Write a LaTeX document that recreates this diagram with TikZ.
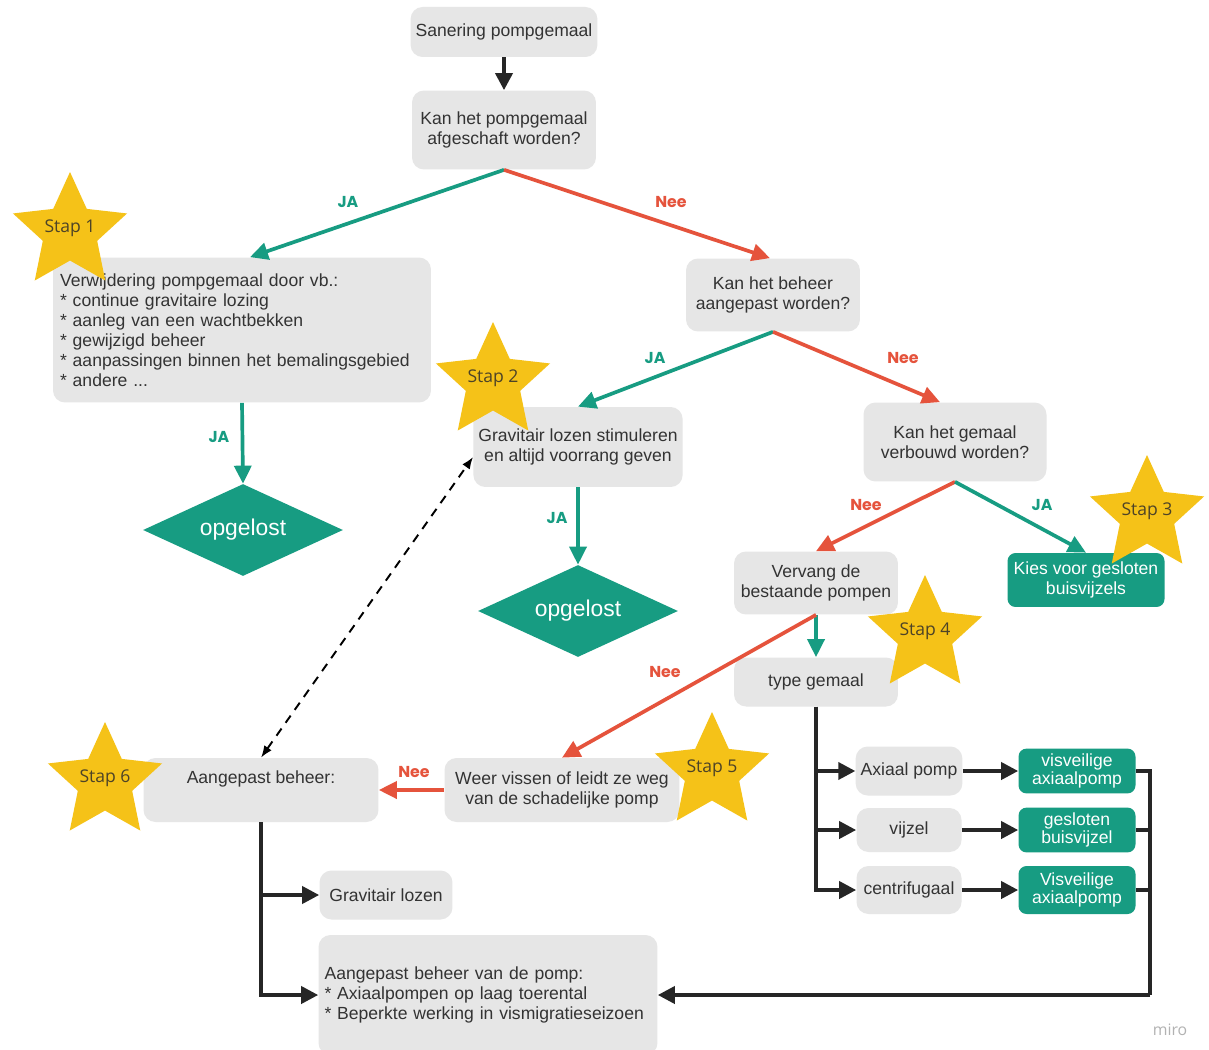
\documentclass[tikz,border=0pt]{standalone}
\usepackage{fontspec}
\setmainfont{Liberation Sans}
\newfontfamily\labelfont{Poppins}
\newfontfamily\starfont{Open Sans}
\usetikzlibrary{arrows.meta,shapes.geometric}
\definecolor{boxgray}{HTML}{E6E6E6}
\definecolor{jagreen}{HTML}{179C82}
\definecolor{neered}{HTML}{E5533C}
\definecolor{stargold}{HTML}{F5C218}
\definecolor{textgray}{HTML}{333333}
\definecolor{startext}{HTML}{4D4327}

\begin{document}
\begin{tikzpicture}[x=0.02cm, y=-0.02cm,
    box/.style={fill=boxgray, rounded corners=0.24cm, text=textgray, font=\fontsize{10}{11.4}\selectfont, align=center, inner sep=0.1cm},
    greenbox/.style={box, fill=jagreen, text=white, rounded corners=0.16cm},
    solved/.style={diamond, aspect=2.2, fill=jagreen, text=white, font=\fontsize{13}{15}\selectfont, minimum width=4cm, minimum height=1.84cm, inner sep=0pt},
    ja/.style={draw=jagreen, line width=2.1pt, -{Triangle[length=0.36cm,width=0.34cm]}},
    nee/.style={ja, draw=neered},
    conn/.style={draw=black!85, line width=2.1pt},
    branch/.style={conn, -{Triangle[length=0.34cm,width=0.34cm]}},
    lbl/.style={font=\labelfont\bfseries\fontsize{9}{10}\selectfont},
    stapstar/.style={star, star points=5, star point ratio=2.1, fill=stargold, minimum size=2.4cm, inner sep=0pt},
    staptext/.style={font=\starfont\fontsize{10}{11}\selectfont, text=startext}]
    \useasboundingbox (0,0) rectangle (1209,1050);
    \fill[white] (0,0) rectangle (1209,1050);

    \node[box, minimum width=3.68cm, minimum height=1cm] (start) at (504,32) {Sanering pompgemaal};
    \node[box, minimum width=3.68cm, minimum height=1.58cm] (q1) at (504,130) {Kan het pompgemaal\\afgeschaft worden?};
    \node[box, minimum width=7.56cm, minimum height=2.9cm, text width=7.28cm, align=left, inner xsep=0.14cm] (remove) at (242,330) {Verwijdering pompgemaal door vb.:\\{*} continue gravitaire lozing\\{*} aanleg van een wachtbekken\\{*} gewijzigd beheer\\{*} aanpassingen binnen het bemalingsgebied\\{*} andere ...};
    \node[box, minimum width=3.48cm, minimum height=1.46cm] (q2) at (773,295) {Kan het beheer\\aangepast worden?};
    \node[box, minimum width=4.18cm, minimum height=1.6cm] (grav) at (578,447) {Gravitair lozen stimuleren\\en altijd voorrang geven};
    \node[box, minimum width=3.66cm, minimum height=1.58cm] (q3) at (955,442) {Kan het gemaal\\verbouwd worden?};
    \node[solved] (solved1) at (243,530) {opgelost};
    \node[solved] (solved2) at (578,611) {opgelost};
    \node[box, minimum width=3.28cm, minimum height=1.26cm] (replace) at (816,583) {Vervang de\\bestaande pompen};
    \node[greenbox, minimum width=3.14cm, minimum height=1.08cm] (screw) at (1086,580) {Kies voor gesloten\\buisvijzels};
    \node[box, minimum width=3.28cm, minimum height=0.98cm] (type) at (816,682) {type gemaal};
    \node[box, minimum width=4.7cm, minimum height=1.28cm] (fish) at (562,790) {Weer vissen of leidt ze weg\\van de schadelijke pomp};
    \node[box, minimum width=4.7cm, minimum height=1.28cm] (manage) at (261,790) {Aangepast beheer:\\\strut};
    \node[box, minimum width=2.66cm, minimum height=0.98cm] (gravity) at (386,895) {Gravitair lozen};
    \node[box, minimum width=6.78cm, minimum height=2.4cm, text width=6.54cm, align=left, inner xsep=0.12cm] (pumpmgmt) at (488,995) {Aangepast beheer van de pomp:\\{*} Axiaalpompen op laag toerental\\{*} Beperkte werking in vismigratieseizoen};
    \node[box, minimum width=2.1cm, minimum height=0.98cm] (axial) at (909,771) {Axiaal pomp};
    \node[box, minimum width=2.1cm, minimum height=0.88cm] (vijzel) at (909,830) {vijzel};
    \node[box, minimum width=2.1cm, minimum height=0.96cm] (centri) at (909,890) {centrifugaal};
    \node[greenbox, minimum width=2.34cm, minimum height=0.86cm, font=\fontsize{10}{10.5}\selectfont] (safeaxial) at (1077,771) {visveilige\\axiaalpomp};
    \node[greenbox, minimum width=2.34cm, minimum height=0.86cm, font=\fontsize{10}{10.5}\selectfont] (closedscrew) at (1077,830) {gesloten\\buisvijzel};
    \node[greenbox, minimum width=2.34cm, minimum height=0.96cm, font=\fontsize{10}{10.5}\selectfont] (safecentri) at (1077,890) {Visveilige\\axiaalpomp};

    \draw[conn, -{Triangle[length=0.34cm,width=0.34cm]}] (start.south) -- (q1.north);
    \draw[ja] (q1.south) -- ([xshift=0.16cm]remove.north);
    \draw[nee] (q1.south) -- ([xshift=-0.06cm]q2.north);
    \draw[ja] (q2.south) -- (grav.north);
    \draw[nee] (q2.south) -- ([xshift=-0.3cm]q3.north);
    \draw[ja] (remove.south) -- (solved1.north);
    \draw[ja] (grav.south) -- (solved2.north);
    \draw[nee] (q3.south) -- (replace.north);
    \draw[ja] (q3.south) -- (screw.north);
    \draw[ja] (replace.south) -- (type.north);
    \draw[nee] (replace.south) -- (fish.north);
    \draw[nee] (fish.west) -- (manage.east);
    \draw[dashed, dash pattern=on 5pt off 4pt, line width=1.1pt, {Latex[length=0.24cm]}-{Latex[length=0.24cm]}] (manage.north) -- ([yshift=-0.2cm]grav.west);

    \draw[branch] (type.south) |- (axial.west);
    \draw[branch] (type.south) |- (vijzel.west);
    \draw[branch] (type.south) |- (centri.west);
    \draw[branch] (axial.east) -- (safeaxial.west);
    \draw[branch] (vijzel.east) -- (closedscrew.west);
    \draw[branch] (centri.east) -- (safecentri.west);
    \coordinate (bus) at (1150,995);
    \draw[conn] (safeaxial.east) -| (bus);
    \draw[conn] (closedscrew.east) -- (closedscrew.east -| bus);
    \draw[conn] (safecentri.east) -- (safecentri.east -| bus);
    \draw[branch] (bus) -- (pumpmgmt.east);
    \draw[branch] (manage.south) |- (gravity.west);
    \draw[branch] (manage.south) |- (pumpmgmt.west);

    \node[lbl, text=jagreen] (ja1) at (348,202) {JA};
    \node[lbl, text=neered] (nee1) at (671,202) {Nee};
    \node[lbl, text=jagreen] (ja2) at (655,358) {JA};
    \node[lbl, text=neered] (nee2) at (903,358) {Nee};
    \node[lbl, text=jagreen] (ja3) at (219,437) {JA};
    \node[lbl, text=jagreen] (ja4) at (557,518) {JA};
    \node[lbl, text=neered] (nee3) at (866,505) {Nee};
    \node[lbl, text=jagreen] (ja5) at (1042,505) {JA};
    \node[lbl, text=neered] (nee4) at (665,672) {Nee};
    \node[lbl, text=neered] (nee5) at (414,772) {Nee};

    \foreach \n/\x/\y in {1/70/232, 2/493/382, 3/1147/515, 4/925/635, 5/712/772, 6/105/782} {
        \node[stapstar] (star\n) at (\x,\y) {};
        \node[staptext] (stap\n) at ([yshift=0.08cm]star\n) {Stap \n};
    }

    \node[text=black!30, font=\starfont\fontsize{9}{10}\selectfont] (miro) at (1170,1030) {miro};
\end{tikzpicture}
\end{document}
